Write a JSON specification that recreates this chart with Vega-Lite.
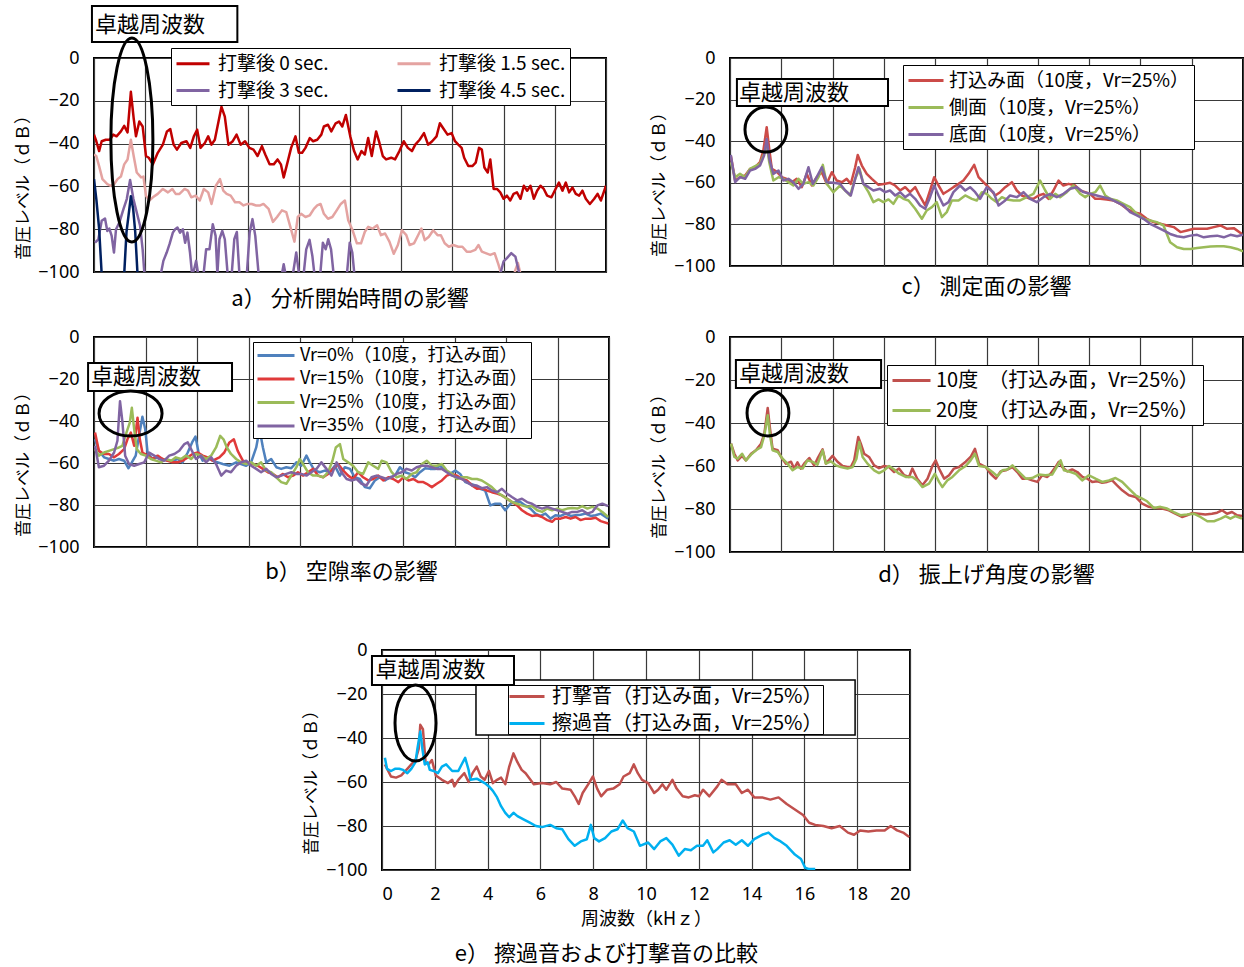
{
"$schema":"https://vega.github.io/schema/vega-lite/v6.json",
"autosize":{"type":"pad"},
"padding":{"left":13,"top":3,"right":0,"bottom":0},
"background":"#ffffff",
"config":{
"font":"Noto Sans CJK JP",
"view":{"stroke":"#000","strokeWidth":2},
"axis":{"labelFont":"Noto Sans","labelFontSize":18,"labelColor":"#000","titleFont":"Noto Sans CJK JP","titleFontSize":17,"titleFontWeight":"normal","titleColor":"#000","grid":true,"gridColor":"#3a3a3a","gridWidth":1.2,"gridOpacity":1,"domain":false,"ticks":false,"labelPadding":15,"titlePadding":5},
"legend":{"labelFont":"Noto Sans CJK JP","labelColor":"#000","labelLimit":600,"symbolStrokeWidth":3,"strokeColor":"#000","fillColor":"#fff"},
"title":{"font":"Noto Sans CJK JP","fontSize":22,"fontWeight":"normal","color":"#000"}
},
"datasets":{
"a":[
{"s":0,"f":0,"v":-35.8},{"s":0,"f":0.09,"v":-38.9},{"s":0,"f":0.2,"v":-43.5},{"s":0,"f":0.3,"v":-38.9},{"s":0,"f":0.46,"v":-38.2},{"s":0,"f":0.62,"v":-38.2},{"s":0,"f":0.75,"v":-35.8},{"s":0,"f":0.88,"v":-36.6},{"s":0,"f":1.05,"v":-34.3},{"s":0,"f":1.18,"v":-31.7},{"s":0,"f":1.31,"v":-34.8},{"s":0,"f":1.44,"v":-15.8},{"s":0,"f":1.55,"v":-28.2},{"s":0,"f":1.64,"v":-36.6},{"s":0,"f":1.77,"v":-29.7},{"s":0,"f":1.9,"v":-32},{"s":0,"f":2.03,"v":-45.8},{"s":0,"f":2.14,"v":-46.6},{"s":0,"f":2.3,"v":-49.7},{"s":0,"f":2.49,"v":-44.3},{"s":0,"f":2.69,"v":-40.5},{"s":0,"f":2.85,"v":-34.3},{"s":0,"f":2.98,"v":-33.2},{"s":0,"f":3.11,"v":-40.5},{"s":0,"f":3.24,"v":-42.8},{"s":0,"f":3.41,"v":-39.7},{"s":0,"f":3.61,"v":-38.9},{"s":0,"f":3.76,"v":-42},{"s":0,"f":3.9,"v":-36.6},{"s":0,"f":4.03,"v":-33.5},{"s":0,"f":4.16,"v":-42},{"s":0,"f":4.33,"v":-39.7},{"s":0,"f":4.46,"v":-36.6},{"s":0,"f":4.59,"v":-40.5},{"s":0,"f":4.72,"v":-38.2},{"s":0,"f":4.85,"v":-30.5},{"s":0,"f":4.98,"v":-22.8},{"s":0,"f":5.11,"v":-27.4},{"s":0,"f":5.25,"v":-40.5},{"s":0,"f":5.42,"v":-38.9},{"s":0,"f":5.57,"v":-35.8},{"s":0,"f":5.73,"v":-40.5},{"s":0,"f":5.9,"v":-38.9},{"s":0,"f":6.07,"v":-42},{"s":0,"f":6.23,"v":-42.8},{"s":0,"f":6.39,"v":-45.8},{"s":0,"f":6.56,"v":-41.2},{"s":0,"f":6.69,"v":-45.1},{"s":0,"f":6.86,"v":-49.7},{"s":0,"f":7.02,"v":-49.7},{"s":0,"f":7.17,"v":-47.4},{"s":0,"f":7.3,"v":-49.7},{"s":0,"f":7.41,"v":-55.8},{"s":0,"f":7.54,"v":-49.7},{"s":0,"f":7.7,"v":-42},{"s":0,"f":7.87,"v":-36.6},{"s":0,"f":8,"v":-44.3},{"s":0,"f":8.13,"v":-44.3},{"s":0,"f":8.26,"v":-42},{"s":0,"f":8.43,"v":-37.4},{"s":0,"f":8.56,"v":-38.9},{"s":0,"f":8.72,"v":-38.2},{"s":0,"f":8.88,"v":-35.8},{"s":0,"f":8.98,"v":-32},{"s":0,"f":9.14,"v":-31.2},{"s":0,"f":9.27,"v":-34.3},{"s":0,"f":9.44,"v":-30.5},{"s":0,"f":9.57,"v":-29.7},{"s":0,"f":9.7,"v":-32},{"s":0,"f":9.84,"v":-26.6},{"s":0,"f":10.01,"v":-36.6},{"s":0,"f":10.16,"v":-43.5},{"s":0,"f":10.3,"v":-47.4},{"s":0,"f":10.45,"v":-43.5},{"s":0,"f":10.58,"v":-45.1},{"s":0,"f":10.71,"v":-37.4},{"s":0,"f":10.85,"v":-45.8},{"s":0,"f":11.02,"v":-34.3},{"s":0,"f":11.15,"v":-39.7},{"s":0,"f":11.28,"v":-45.8},{"s":0,"f":11.41,"v":-47.4},{"s":0,"f":11.61,"v":-46.6},{"s":0,"f":11.76,"v":-47.4},{"s":0,"f":11.93,"v":-43.5},{"s":0,"f":12.1,"v":-38.9},{"s":0,"f":12.26,"v":-42},{"s":0,"f":12.42,"v":-43.5},{"s":0,"f":12.55,"v":-40.5},{"s":0,"f":12.72,"v":-38.2},{"s":0,"f":12.89,"v":-35.1},{"s":0,"f":13.05,"v":-40.5},{"s":0,"f":13.21,"v":-38.9},{"s":0,"f":13.38,"v":-36.6},{"s":0,"f":13.51,"v":-30.5},{"s":0,"f":13.64,"v":-32.8},{"s":0,"f":13.81,"v":-35.8},{"s":0,"f":13.97,"v":-35.1},{"s":0,"f":14.1,"v":-38.9},{"s":0,"f":14.23,"v":-40.5},{"s":0,"f":14.36,"v":-42},{"s":0,"f":14.46,"v":-46.6},{"s":0,"f":14.62,"v":-50.5},{"s":0,"f":14.78,"v":-50.5},{"s":0,"f":14.91,"v":-48.9},{"s":0,"f":15.04,"v":-42},{"s":0,"f":15.15,"v":-42.8},{"s":0,"f":15.25,"v":-51.2},{"s":0,"f":15.38,"v":-53.5},{"s":0,"f":15.48,"v":-47.4},{"s":0,"f":15.61,"v":-61.2},{"s":0,"f":15.74,"v":-61.2},{"s":0,"f":15.87,"v":-62.8},{"s":0,"f":16,"v":-65.8},{"s":0,"f":16.13,"v":-64.3},{"s":0,"f":16.26,"v":-66.6},{"s":0,"f":16.39,"v":-63.5},{"s":0,"f":16.52,"v":-62.8},{"s":0,"f":16.66,"v":-65.8},{"s":0,"f":16.79,"v":-59.7},{"s":0,"f":16.92,"v":-62},{"s":0,"f":17.05,"v":-59.7},{"s":0,"f":17.18,"v":-65.8},{"s":0,"f":17.31,"v":-62},{"s":0,"f":17.44,"v":-59.7},{"s":0,"f":17.57,"v":-61.2},{"s":0,"f":17.7,"v":-64.3},{"s":0,"f":17.87,"v":-65.1},{"s":0,"f":18.03,"v":-61.2},{"s":0,"f":18.16,"v":-58.2},{"s":0,"f":18.3,"v":-62},{"s":0,"f":18.43,"v":-58.2},{"s":0,"f":18.56,"v":-62.8},{"s":0,"f":18.69,"v":-60.5},{"s":0,"f":18.82,"v":-63.5},{"s":0,"f":18.95,"v":-64.3},{"s":0,"f":19.08,"v":-62},{"s":0,"f":19.21,"v":-65.8},{"s":0,"f":19.37,"v":-68.2},{"s":0,"f":19.54,"v":-65.8},{"s":0,"f":19.67,"v":-63.5},{"s":0,"f":19.8,"v":-66.6},{"s":0,"f":20,"v":-59.7},
{"s":1.5,"f":0,"v":-45.1},{"s":1.5,"f":0.09,"v":-45.8},{"s":1.5,"f":0.2,"v":-50.5},{"s":1.5,"f":0.33,"v":-56.6},{"s":1.5,"f":0.52,"v":-58.9},{"s":1.5,"f":0.66,"v":-59.7},{"s":1.5,"f":0.79,"v":-58.9},{"s":1.5,"f":0.92,"v":-56.6},{"s":1.5,"f":1.05,"v":-55.4},{"s":1.5,"f":1.18,"v":-49.7},{"s":1.5,"f":1.31,"v":-47.4},{"s":1.5,"f":1.44,"v":-38.2},{"s":1.5,"f":1.55,"v":-45.8},{"s":1.5,"f":1.67,"v":-53.5},{"s":1.5,"f":1.84,"v":-55.8},{"s":1.5,"f":1.93,"v":-55.4},{"s":1.5,"f":2.03,"v":-64.3},{"s":1.5,"f":2.16,"v":-66.6},{"s":1.5,"f":2.3,"v":-65.1},{"s":1.5,"f":2.49,"v":-63.5},{"s":1.5,"f":2.69,"v":-61.2},{"s":1.5,"f":2.89,"v":-62.8},{"s":1.5,"f":3.06,"v":-61.2},{"s":1.5,"f":3.19,"v":-63.5},{"s":1.5,"f":3.34,"v":-63.5},{"s":1.5,"f":3.54,"v":-61.2},{"s":1.5,"f":3.67,"v":-62},{"s":1.5,"f":3.8,"v":-65.1},{"s":1.5,"f":3.97,"v":-64.3},{"s":1.5,"f":4.13,"v":-66.6},{"s":1.5,"f":4.29,"v":-61.2},{"s":1.5,"f":4.46,"v":-62.8},{"s":1.5,"f":4.59,"v":-68.2},{"s":1.5,"f":4.76,"v":-59.7},{"s":1.5,"f":4.92,"v":-56.6},{"s":1.5,"f":5.05,"v":-62},{"s":1.5,"f":5.18,"v":-63.5},{"s":1.5,"f":5.34,"v":-64.3},{"s":1.5,"f":5.51,"v":-67.4},{"s":1.5,"f":5.68,"v":-67.4},{"s":1.5,"f":5.84,"v":-68.9},{"s":1.5,"f":6,"v":-68.2},{"s":1.5,"f":6.16,"v":-68.2},{"s":1.5,"f":6.33,"v":-68.9},{"s":1.5,"f":6.49,"v":-68.9},{"s":1.5,"f":6.62,"v":-68.2},{"s":1.5,"f":6.82,"v":-70.5},{"s":1.5,"f":6.99,"v":-76.6},{"s":1.5,"f":7.15,"v":-74.3},{"s":1.5,"f":7.34,"v":-71.2},{"s":1.5,"f":7.51,"v":-72},{"s":1.5,"f":7.67,"v":-78.9},{"s":1.5,"f":7.83,"v":-85.8},{"s":1.5,"f":7.96,"v":-74.3},{"s":1.5,"f":8.09,"v":-72.8},{"s":1.5,"f":8.26,"v":-74.3},{"s":1.5,"f":8.43,"v":-73.5},{"s":1.5,"f":8.59,"v":-70.5},{"s":1.5,"f":8.72,"v":-68.9},{"s":1.5,"f":8.85,"v":-68.2},{"s":1.5,"f":8.98,"v":-72.8},{"s":1.5,"f":9.14,"v":-75.1},{"s":1.5,"f":9.31,"v":-74.3},{"s":1.5,"f":9.48,"v":-71.2},{"s":1.5,"f":9.64,"v":-68.2},{"s":1.5,"f":9.8,"v":-66.6},{"s":1.5,"f":9.93,"v":-75.8},{"s":1.5,"f":10.1,"v":-80.5},{"s":1.5,"f":10.27,"v":-86.6},{"s":1.5,"f":10.43,"v":-86.6},{"s":1.5,"f":10.58,"v":-81.2},{"s":1.5,"f":10.71,"v":-78.9},{"s":1.5,"f":10.89,"v":-79.7},{"s":1.5,"f":11.06,"v":-78.2},{"s":1.5,"f":11.21,"v":-82.8},{"s":1.5,"f":11.37,"v":-82},{"s":1.5,"f":11.54,"v":-85.8},{"s":1.5,"f":11.71,"v":-91.5},{"s":1.5,"f":11.87,"v":-87.4},{"s":1.5,"f":12.03,"v":-80.5},{"s":1.5,"f":12.2,"v":-82.8},{"s":1.5,"f":12.33,"v":-87.4},{"s":1.5,"f":12.5,"v":-86.6},{"s":1.5,"f":12.66,"v":-82.8},{"s":1.5,"f":12.79,"v":-79.7},{"s":1.5,"f":12.92,"v":-85.1},{"s":1.5,"f":13.08,"v":-83.5},{"s":1.5,"f":13.25,"v":-80.5},{"s":1.5,"f":13.42,"v":-82.8},{"s":1.5,"f":13.55,"v":-82.8},{"s":1.5,"f":13.7,"v":-86.6},{"s":1.5,"f":13.86,"v":-88.2},{"s":1.5,"f":14.03,"v":-87.4},{"s":1.5,"f":14.23,"v":-88.2},{"s":1.5,"f":14.39,"v":-88.2},{"s":1.5,"f":14.56,"v":-90.5},{"s":1.5,"f":14.72,"v":-90.5},{"s":1.5,"f":14.89,"v":-89.7},{"s":1.5,"f":15.02,"v":-87.4},{"s":1.5,"f":15.15,"v":-90.5},{"s":1.5,"f":15.3,"v":-91.2},{"s":1.5,"f":15.48,"v":-92},{"s":1.5,"f":15.65,"v":-91.2},{"s":1.5,"f":15.8,"v":-96.6},{"s":1.5,"f":15.91,"v":-101},{"s":1.5,"f":16.2,"v":-112},{"s":1.5,"f":16.46,"v":-99},{"s":1.5,"f":16.56,"v":-95.8},{"s":1.5,"f":16.66,"v":-101},{"s":1.5,"f":16.8,"v":-112},
{"s":3,"f":0.04,"v":-86.3},{"s":3,"f":0.17,"v":-84.7},{"s":3,"f":0.3,"v":-76.1},{"s":3,"f":0.43,"v":-75},{"s":3,"f":0.52,"v":-80.8},{"s":3,"f":0.6,"v":-79.7},{"s":3,"f":0.69,"v":-83.1},{"s":3,"f":0.78,"v":-90.9},{"s":3,"f":0.86,"v":-80},{"s":3,"f":0.99,"v":-76.9},{"s":3,"f":1.15,"v":-70.6},{"s":3,"f":1.28,"v":-65.9},{"s":3,"f":1.41,"v":-57},{"s":3,"f":1.54,"v":-65.9},{"s":3,"f":1.67,"v":-72.2},{"s":3,"f":1.8,"v":-78.4},{"s":3,"f":1.9,"v":-89.4},{"s":3,"f":1.97,"v":-101},{"s":3,"f":2.3,"v":-112},{"s":3,"f":2.61,"v":-101},{"s":3,"f":2.71,"v":-94.8},{"s":3,"f":2.84,"v":-90.9},{"s":3,"f":2.95,"v":-87},{"s":3,"f":3.08,"v":-81.6},{"s":3,"f":3.17,"v":-80},{"s":3,"f":3.26,"v":-79.2},{"s":3,"f":3.36,"v":-81.6},{"s":3,"f":3.47,"v":-80},{"s":3,"f":3.56,"v":-86.3},{"s":3,"f":3.65,"v":-81.6},{"s":3,"f":3.75,"v":-90.9},{"s":3,"f":3.83,"v":-101},{"s":3,"f":3.91,"v":-98.8},{"s":3,"f":3.99,"v":-94.8},{"s":3,"f":4.07,"v":-101},{"s":3,"f":4.18,"v":-112},{"s":3,"f":4.28,"v":-101},{"s":3,"f":4.38,"v":-89.4},{"s":3,"f":4.51,"v":-89.4},{"s":3,"f":4.64,"v":-77.7},{"s":3,"f":4.75,"v":-83.1},{"s":3,"f":4.82,"v":-101},{"s":3,"f":4.9,"v":-84.7},{"s":3,"f":5.01,"v":-80.8},{"s":3,"f":5.11,"v":-84.7},{"s":3,"f":5.22,"v":-101},{"s":3,"f":5.3,"v":-112},{"s":3,"f":5.38,"v":-101},{"s":3,"f":5.48,"v":-84.7},{"s":3,"f":5.58,"v":-81.3},{"s":3,"f":5.68,"v":-101},{"s":3,"f":5.82,"v":-112},{"s":3,"f":5.97,"v":-101},{"s":3,"f":6.08,"v":-81.6},{"s":3,"f":6.19,"v":-75.3},{"s":3,"f":6.3,"v":-83.1},{"s":3,"f":6.43,"v":-101},{"s":3,"f":6.9,"v":-112},{"s":3,"f":7.34,"v":-101},{"s":3,"f":7.41,"v":-96.4},{"s":3,"f":7.48,"v":-101},{"s":3,"f":7.62,"v":-112},{"s":3,"f":7.77,"v":-101},{"s":3,"f":7.9,"v":-90.9},{"s":3,"f":8.01,"v":-101},{"s":3,"f":8.1,"v":-112},{"s":3,"f":8.19,"v":-101},{"s":3,"f":8.29,"v":-89.4},{"s":3,"f":8.42,"v":-85},{"s":3,"f":8.53,"v":-92.5},{"s":3,"f":8.61,"v":-101},{"s":3,"f":8.72,"v":-112},{"s":3,"f":8.84,"v":-101},{"s":3,"f":8.94,"v":-86.3},{"s":3,"f":9.05,"v":-89.4},{"s":3,"f":9.15,"v":-84.7},{"s":3,"f":9.26,"v":-89.4},{"s":3,"f":9.36,"v":-101},{"s":3,"f":9.6,"v":-112},{"s":3,"f":9.88,"v":-101},{"s":3,"f":9.99,"v":-86.3},{"s":3,"f":10.09,"v":-90.9},{"s":3,"f":10.17,"v":-101},{"s":3,"f":13,"v":-112},{"s":3,"f":15.87,"v":-101},{"s":3,"f":16,"v":-95},{"s":3,"f":16.13,"v":-93.5},{"s":3,"f":16.3,"v":-91.2},{"s":3,"f":16.46,"v":-92.8},{"s":3,"f":16.56,"v":-98},{"s":3,"f":16.62,"v":-101},{"s":3,"f":16.8,"v":-112},
{"s":4.5,"f":0,"v":-56.6},{"s":4.5,"f":0.09,"v":-65.8},{"s":4.5,"f":0.2,"v":-79.7},{"s":4.5,"f":0.3,"v":-101},{"s":4.5,"f":0.7,"v":-112},{"s":4.5,"f":1.18,"v":-101},{"s":4.5,"f":1.27,"v":-81.2},{"s":4.5,"f":1.35,"v":-73.5},{"s":4.5,"f":1.44,"v":-64.6},{"s":4.5,"f":1.53,"v":-70.5},{"s":4.5,"f":1.61,"v":-81.2},{"s":4.5,"f":1.7,"v":-101},{"s":4.5,"f":2,"v":-112}
],
"b":[
{"s":0,"f":0.04,"v":-48.7},{"s":0,"f":0.19,"v":-54.2},{"s":0,"f":0.39,"v":-57.3},{"s":0,"f":0.58,"v":-58.1},{"s":0,"f":0.78,"v":-58.9},{"s":0,"f":0.97,"v":-58.1},{"s":0,"f":1.17,"v":-58.9},{"s":0,"f":1.34,"v":-62.5},{"s":0,"f":1.47,"v":-59.7},{"s":0,"f":1.62,"v":-56.5},{"s":0,"f":1.75,"v":-47.1},{"s":0,"f":1.88,"v":-38},{"s":0,"f":1.99,"v":-43.9},{"s":0,"f":2.08,"v":-55},{"s":0,"f":2.27,"v":-58.1},{"s":0,"f":2.47,"v":-57.3},{"s":0,"f":2.66,"v":-58.1},{"s":0,"f":2.86,"v":-58.9},{"s":0,"f":3.05,"v":-58.9},{"s":0,"f":3.25,"v":-58.1},{"s":0,"f":3.44,"v":-59.7},{"s":0,"f":3.64,"v":-55},{"s":0,"f":3.81,"v":-50.2},{"s":0,"f":3.94,"v":-47.4},{"s":0,"f":4.06,"v":-55},{"s":0,"f":4.22,"v":-58.9},{"s":0,"f":4.42,"v":-57.3},{"s":0,"f":4.61,"v":-58.9},{"s":0,"f":4.81,"v":-59.7},{"s":0,"f":5,"v":-60.5},{"s":0,"f":5.26,"v":-61.3},{"s":0,"f":5.52,"v":-59.7},{"s":0,"f":5.71,"v":-60.5},{"s":0,"f":5.91,"v":-61.3},{"s":0,"f":6.1,"v":-59.7},{"s":0,"f":6.3,"v":-52.6},{"s":0,"f":6.43,"v":-43.9},{"s":0,"f":6.56,"v":-52.6},{"s":0,"f":6.69,"v":-59.7},{"s":0,"f":6.88,"v":-58.1},{"s":0,"f":7.08,"v":-62},{"s":0,"f":7.27,"v":-62.8},{"s":0,"f":7.47,"v":-62},{"s":0,"f":7.66,"v":-62.5},{"s":0,"f":7.86,"v":-59.7},{"s":0,"f":8.05,"v":-61.3},{"s":0,"f":8.25,"v":-56.5},{"s":0,"f":8.38,"v":-59.7},{"s":0,"f":8.57,"v":-63.6},{"s":0,"f":8.77,"v":-64.4},{"s":0,"f":8.96,"v":-63.6},{"s":0,"f":9.16,"v":-64.4},{"s":0,"f":9.35,"v":-61.3},{"s":0,"f":9.55,"v":-66},{"s":0,"f":9.74,"v":-62},{"s":0,"f":9.94,"v":-62.8},{"s":0,"f":10.13,"v":-66.8},{"s":0,"f":10.32,"v":-67.6},{"s":0,"f":10.52,"v":-71.5},{"s":0,"f":10.71,"v":-72},{"s":0,"f":10.91,"v":-68.3},{"s":0,"f":11.1,"v":-66.8},{"s":0,"f":11.3,"v":-68.3},{"s":0,"f":11.49,"v":-66.8},{"s":0,"f":11.69,"v":-66},{"s":0,"f":11.88,"v":-62},{"s":0,"f":12.08,"v":-64.4},{"s":0,"f":12.27,"v":-65.2},{"s":0,"f":12.47,"v":-66.8},{"s":0,"f":12.66,"v":-64.4},{"s":0,"f":12.86,"v":-62.5},{"s":0,"f":13.05,"v":-62.8},{"s":0,"f":13.25,"v":-62.8},{"s":0,"f":13.44,"v":-61.3},{"s":0,"f":13.64,"v":-63.6},{"s":0,"f":13.83,"v":-65.2},{"s":0,"f":14.03,"v":-63.6},{"s":0,"f":14.22,"v":-65.2},{"s":0,"f":14.42,"v":-69.1},{"s":0,"f":14.61,"v":-69.9},{"s":0,"f":14.81,"v":-70.7},{"s":0,"f":15,"v":-72.3},{"s":0,"f":15.19,"v":-73.1},{"s":0,"f":15.39,"v":-80.2},{"s":0,"f":15.58,"v":-79.4},{"s":0,"f":15.78,"v":-79.4},{"s":0,"f":15.97,"v":-82.5},{"s":0,"f":16.17,"v":-79.4},{"s":0,"f":16.36,"v":-78.6},{"s":0,"f":16.56,"v":-78.6},{"s":0,"f":16.75,"v":-80.2},{"s":0,"f":16.95,"v":-81.7},{"s":0,"f":17.14,"v":-84.1},{"s":0,"f":17.34,"v":-85.2},{"s":0,"f":17.53,"v":-84.1},{"s":0,"f":17.73,"v":-86.5},{"s":0,"f":17.92,"v":-84.9},{"s":0,"f":18.12,"v":-85.2},{"s":0,"f":18.32,"v":-84.1},{"s":0,"f":18.51,"v":-85.2},{"s":0,"f":18.7,"v":-84.9},{"s":0,"f":18.9,"v":-84.6},{"s":0,"f":19.09,"v":-84.1},{"s":0,"f":19.29,"v":-85.2},{"s":0,"f":19.48,"v":-84.9},{"s":0,"f":19.68,"v":-84.1},{"s":0,"f":19.97,"v":-86.5},
{"s":15,"f":0.04,"v":-45.5},{"s":15,"f":0.19,"v":-54.2},{"s":15,"f":0.39,"v":-55.7},{"s":15,"f":0.58,"v":-55.7},{"s":15,"f":0.78,"v":-57.3},{"s":15,"f":0.97,"v":-55.7},{"s":15,"f":1.17,"v":-53.4},{"s":15,"f":1.3,"v":-48.7},{"s":15,"f":1.43,"v":-45.5},{"s":15,"f":1.56,"v":-51.8},{"s":15,"f":1.69,"v":-38.4},{"s":15,"f":1.78,"v":-48.7},{"s":15,"f":1.88,"v":-55},{"s":15,"f":2.08,"v":-56.5},{"s":15,"f":2.27,"v":-58.1},{"s":15,"f":2.47,"v":-56.5},{"s":15,"f":2.66,"v":-58.1},{"s":15,"f":2.86,"v":-58.9},{"s":15,"f":3.05,"v":-59.7},{"s":15,"f":3.25,"v":-59.7},{"s":15,"f":3.44,"v":-58.9},{"s":15,"f":3.64,"v":-57.3},{"s":15,"f":3.83,"v":-55.7},{"s":15,"f":4.03,"v":-55},{"s":15,"f":4.22,"v":-56.5},{"s":15,"f":4.42,"v":-57.3},{"s":15,"f":4.61,"v":-58.9},{"s":15,"f":4.87,"v":-57.3},{"s":15,"f":5.06,"v":-55},{"s":15,"f":5.26,"v":-50.2},{"s":15,"f":5.43,"v":-48.7},{"s":15,"f":5.58,"v":-54.2},{"s":15,"f":5.78,"v":-58.9},{"s":15,"f":5.97,"v":-59.7},{"s":15,"f":6.17,"v":-60.5},{"s":15,"f":6.36,"v":-61.3},{"s":15,"f":6.56,"v":-62.8},{"s":15,"f":6.75,"v":-64.4},{"s":15,"f":6.95,"v":-65.2},{"s":15,"f":7.14,"v":-66.8},{"s":15,"f":7.34,"v":-65.2},{"s":15,"f":7.53,"v":-66.8},{"s":15,"f":7.73,"v":-66},{"s":15,"f":7.92,"v":-64.4},{"s":15,"f":8.12,"v":-66},{"s":15,"f":8.31,"v":-64.4},{"s":15,"f":8.51,"v":-62.8},{"s":15,"f":8.7,"v":-66},{"s":15,"f":8.9,"v":-66.8},{"s":15,"f":9.09,"v":-65.2},{"s":15,"f":9.29,"v":-62.8},{"s":15,"f":9.48,"v":-60.5},{"s":15,"f":9.68,"v":-63.6},{"s":15,"f":9.87,"v":-66},{"s":15,"f":10.06,"v":-67.6},{"s":15,"f":10.26,"v":-64.4},{"s":15,"f":10.45,"v":-66.8},{"s":15,"f":10.65,"v":-68.3},{"s":15,"f":10.84,"v":-67.6},{"s":15,"f":11.04,"v":-66},{"s":15,"f":11.23,"v":-68.3},{"s":15,"f":11.43,"v":-66.8},{"s":15,"f":11.62,"v":-67.6},{"s":15,"f":11.82,"v":-69.1},{"s":15,"f":12.01,"v":-66.8},{"s":15,"f":12.21,"v":-68.3},{"s":15,"f":12.4,"v":-67.6},{"s":15,"f":12.6,"v":-69.1},{"s":15,"f":12.79,"v":-69.1},{"s":15,"f":12.92,"v":-69.9},{"s":15,"f":13.12,"v":-71.5},{"s":15,"f":13.31,"v":-69.9},{"s":15,"f":13.51,"v":-68.3},{"s":15,"f":13.7,"v":-66},{"s":15,"f":13.9,"v":-65.2},{"s":15,"f":14.09,"v":-66},{"s":15,"f":14.29,"v":-67.6},{"s":15,"f":14.48,"v":-68.3},{"s":15,"f":14.68,"v":-70.7},{"s":15,"f":14.87,"v":-72.3},{"s":15,"f":15.06,"v":-72},{"s":15,"f":15.26,"v":-73.1},{"s":15,"f":15.45,"v":-73.9},{"s":15,"f":15.65,"v":-74.6},{"s":15,"f":15.84,"v":-75.4},{"s":15,"f":16.04,"v":-77},{"s":15,"f":16.23,"v":-78.6},{"s":15,"f":16.43,"v":-80.2},{"s":15,"f":16.62,"v":-82.5},{"s":15,"f":16.82,"v":-84.1},{"s":15,"f":17.01,"v":-85.2},{"s":15,"f":17.21,"v":-84.9},{"s":15,"f":17.4,"v":-85.7},{"s":15,"f":17.6,"v":-87.2},{"s":15,"f":17.79,"v":-88},{"s":15,"f":17.92,"v":-86.5},{"s":15,"f":18.12,"v":-86.5},{"s":15,"f":18.32,"v":-85.7},{"s":15,"f":18.51,"v":-86.5},{"s":15,"f":18.7,"v":-85.7},{"s":15,"f":18.9,"v":-87.2},{"s":15,"f":19.09,"v":-86.5},{"s":15,"f":19.29,"v":-86.5},{"s":15,"f":19.48,"v":-86.1},{"s":15,"f":19.68,"v":-87.7},{"s":15,"f":19.97,"v":-88.8},
{"s":25,"f":0.04,"v":-53.4},{"s":25,"f":0.19,"v":-56.5},{"s":25,"f":0.39,"v":-55},{"s":25,"f":0.58,"v":-54.2},{"s":25,"f":0.78,"v":-53.4},{"s":25,"f":0.97,"v":-52.6},{"s":25,"f":1.1,"v":-51.8},{"s":25,"f":1.26,"v":-45.5},{"s":25,"f":1.39,"v":-40.8},{"s":25,"f":1.47,"v":-33.7},{"s":25,"f":1.56,"v":-43.9},{"s":25,"f":1.66,"v":-53.4},{"s":25,"f":1.82,"v":-55.7},{"s":25,"f":2.01,"v":-56.5},{"s":25,"f":2.21,"v":-58.1},{"s":25,"f":2.4,"v":-58.9},{"s":25,"f":2.6,"v":-59.7},{"s":25,"f":2.79,"v":-58.1},{"s":25,"f":3,"v":-58.9},{"s":25,"f":3.18,"v":-57.3},{"s":25,"f":3.38,"v":-58.1},{"s":25,"f":3.57,"v":-56.5},{"s":25,"f":3.77,"v":-58.1},{"s":25,"f":3.96,"v":-55.7},{"s":25,"f":4.16,"v":-56.5},{"s":25,"f":4.35,"v":-58.1},{"s":25,"f":4.55,"v":-56.5},{"s":25,"f":4.74,"v":-52.6},{"s":25,"f":4.9,"v":-47.1},{"s":25,"f":5.03,"v":-48.7},{"s":25,"f":5.16,"v":-52.6},{"s":25,"f":5.32,"v":-55.7},{"s":25,"f":5.52,"v":-58.1},{"s":25,"f":5.71,"v":-59.7},{"s":25,"f":5.91,"v":-60.5},{"s":25,"f":6.1,"v":-59.7},{"s":25,"f":6.3,"v":-61.3},{"s":25,"f":6.49,"v":-59.7},{"s":25,"f":6.69,"v":-63.6},{"s":25,"f":6.88,"v":-64.4},{"s":25,"f":7.08,"v":-66.8},{"s":25,"f":7.27,"v":-69.1},{"s":25,"f":7.47,"v":-69.9},{"s":25,"f":7.66,"v":-66},{"s":25,"f":7.86,"v":-62},{"s":25,"f":7.99,"v":-58.1},{"s":25,"f":8.12,"v":-60.5},{"s":25,"f":8.31,"v":-64.4},{"s":25,"f":8.51,"v":-66},{"s":25,"f":8.7,"v":-66},{"s":25,"f":8.9,"v":-66.8},{"s":25,"f":9.09,"v":-64.4},{"s":25,"f":9.26,"v":-58.9},{"s":25,"f":9.39,"v":-52.6},{"s":25,"f":9.55,"v":-51},{"s":25,"f":9.68,"v":-58.1},{"s":25,"f":9.87,"v":-59.7},{"s":25,"f":10.06,"v":-61.3},{"s":25,"f":10.26,"v":-64.4},{"s":25,"f":10.45,"v":-65.2},{"s":25,"f":10.65,"v":-59.7},{"s":25,"f":10.84,"v":-61.3},{"s":25,"f":11.04,"v":-62.8},{"s":25,"f":11.17,"v":-58.9},{"s":25,"f":11.36,"v":-59.7},{"s":25,"f":11.56,"v":-64.4},{"s":25,"f":11.75,"v":-66.8},{"s":25,"f":11.95,"v":-66},{"s":25,"f":12.14,"v":-67.6},{"s":25,"f":12.34,"v":-65.2},{"s":25,"f":12.53,"v":-64.4},{"s":25,"f":12.73,"v":-60.5},{"s":25,"f":12.92,"v":-58.9},{"s":25,"f":13.12,"v":-61.3},{"s":25,"f":13.31,"v":-61.3},{"s":25,"f":13.51,"v":-60.5},{"s":25,"f":13.7,"v":-63.6},{"s":25,"f":13.9,"v":-65.2},{"s":25,"f":14.09,"v":-67.6},{"s":25,"f":14.29,"v":-66.8},{"s":25,"f":14.48,"v":-66.8},{"s":25,"f":14.68,"v":-67.6},{"s":25,"f":14.87,"v":-67.6},{"s":25,"f":15.06,"v":-68.3},{"s":25,"f":15.26,"v":-69.9},{"s":25,"f":15.45,"v":-71.5},{"s":25,"f":15.65,"v":-73.9},{"s":25,"f":15.84,"v":-75.4},{"s":25,"f":16.04,"v":-77},{"s":25,"f":16.23,"v":-78.6},{"s":25,"f":16.43,"v":-79.4},{"s":25,"f":16.62,"v":-80.2},{"s":25,"f":16.82,"v":-80.9},{"s":25,"f":17.01,"v":-80.5},{"s":25,"f":17.21,"v":-82.5},{"s":25,"f":17.4,"v":-83.3},{"s":25,"f":17.6,"v":-81.7},{"s":25,"f":17.79,"v":-82.5},{"s":25,"f":17.99,"v":-81.7},{"s":25,"f":18.18,"v":-82.5},{"s":25,"f":18.38,"v":-81.7},{"s":25,"f":18.57,"v":-81.4},{"s":25,"f":18.77,"v":-81.7},{"s":25,"f":18.96,"v":-80.5},{"s":25,"f":19.16,"v":-81.7},{"s":25,"f":19.35,"v":-80.9},{"s":25,"f":19.55,"v":-81.7},{"s":25,"f":19.74,"v":-83.3},{"s":25,"f":19.97,"v":-85.7},
{"s":35,"f":0.04,"v":-51.8},{"s":35,"f":0.19,"v":-62},{"s":35,"f":0.39,"v":-61.3},{"s":35,"f":0.58,"v":-58.9},{"s":35,"f":0.78,"v":-55},{"s":35,"f":0.91,"v":-49.4},{"s":35,"f":1.01,"v":-30.6},{"s":35,"f":1.1,"v":-40},{"s":35,"f":1.21,"v":-56.5},{"s":35,"f":1.36,"v":-60.5},{"s":35,"f":1.56,"v":-61.3},{"s":35,"f":1.75,"v":-60.5},{"s":35,"f":1.95,"v":-59.7},{"s":35,"f":2.14,"v":-55},{"s":35,"f":2.34,"v":-56.5},{"s":35,"f":2.53,"v":-58.1},{"s":35,"f":2.73,"v":-58.9},{"s":35,"f":2.92,"v":-56.5},{"s":35,"f":3.12,"v":-55.7},{"s":35,"f":3.31,"v":-54.2},{"s":35,"f":3.51,"v":-51},{"s":35,"f":3.64,"v":-50.2},{"s":35,"f":3.77,"v":-53.4},{"s":35,"f":3.96,"v":-58.1},{"s":35,"f":4.16,"v":-56.5},{"s":35,"f":4.35,"v":-59.7},{"s":35,"f":4.55,"v":-57.3},{"s":35,"f":4.74,"v":-60.5},{"s":35,"f":4.94,"v":-66},{"s":35,"f":5.13,"v":-63.6},{"s":35,"f":5.32,"v":-64.4},{"s":35,"f":5.52,"v":-61.3},{"s":35,"f":5.71,"v":-59.7},{"s":35,"f":5.91,"v":-58.9},{"s":35,"f":6.1,"v":-61.3},{"s":35,"f":6.3,"v":-62.8},{"s":35,"f":6.49,"v":-64.4},{"s":35,"f":6.69,"v":-62.8},{"s":35,"f":6.88,"v":-65.2},{"s":35,"f":7.08,"v":-66.8},{"s":35,"f":7.27,"v":-66},{"s":35,"f":7.47,"v":-65.2},{"s":35,"f":7.66,"v":-64.4},{"s":35,"f":7.86,"v":-65.2},{"s":35,"f":8.05,"v":-65.2},{"s":35,"f":8.25,"v":-66},{"s":35,"f":8.44,"v":-64.4},{"s":35,"f":8.64,"v":-62.8},{"s":35,"f":8.83,"v":-59.7},{"s":35,"f":9.03,"v":-62.8},{"s":35,"f":9.22,"v":-66},{"s":35,"f":9.42,"v":-59.7},{"s":35,"f":9.61,"v":-64.4},{"s":35,"f":9.81,"v":-67.6},{"s":35,"f":10,"v":-68.3},{"s":35,"f":10.19,"v":-67.6},{"s":35,"f":10.39,"v":-69.9},{"s":35,"f":10.58,"v":-70.7},{"s":35,"f":10.78,"v":-66.8},{"s":35,"f":10.97,"v":-66},{"s":35,"f":11.17,"v":-66.8},{"s":35,"f":11.36,"v":-67.6},{"s":35,"f":11.56,"v":-66.8},{"s":35,"f":11.75,"v":-65.2},{"s":35,"f":11.95,"v":-64.4},{"s":35,"f":12.14,"v":-62.8},{"s":35,"f":12.34,"v":-63.6},{"s":35,"f":12.53,"v":-62},{"s":35,"f":12.73,"v":-61.3},{"s":35,"f":12.92,"v":-61.3},{"s":35,"f":13.12,"v":-62},{"s":35,"f":13.31,"v":-62.8},{"s":35,"f":13.51,"v":-62.8},{"s":35,"f":13.7,"v":-64.4},{"s":35,"f":13.9,"v":-66},{"s":35,"f":14.09,"v":-66.8},{"s":35,"f":14.29,"v":-67.6},{"s":35,"f":14.48,"v":-69.1},{"s":35,"f":14.68,"v":-70.7},{"s":35,"f":14.87,"v":-70.7},{"s":35,"f":15.06,"v":-72},{"s":35,"f":15.26,"v":-71.5},{"s":35,"f":15.45,"v":-73.1},{"s":35,"f":15.65,"v":-73.9},{"s":35,"f":15.84,"v":-72.3},{"s":35,"f":16.04,"v":-74.6},{"s":35,"f":16.23,"v":-76.2},{"s":35,"f":16.43,"v":-77.8},{"s":35,"f":16.62,"v":-77},{"s":35,"f":16.82,"v":-78.6},{"s":35,"f":17.01,"v":-79.4},{"s":35,"f":17.21,"v":-80.9},{"s":35,"f":17.4,"v":-81.7},{"s":35,"f":17.6,"v":-80.9},{"s":35,"f":17.79,"v":-81.7},{"s":35,"f":17.99,"v":-82.5},{"s":35,"f":18.18,"v":-83.3},{"s":35,"f":18.38,"v":-84.1},{"s":35,"f":18.57,"v":-83.3},{"s":35,"f":18.77,"v":-83.3},{"s":35,"f":18.96,"v":-82.5},{"s":35,"f":19.16,"v":-84.1},{"s":35,"f":19.35,"v":-83.3},{"s":35,"f":19.55,"v":-80.2},{"s":35,"f":19.74,"v":-79.4},{"s":35,"f":19.97,"v":-80.5}
],
"c":[
{"s":1,"f":0.03,"v":-46.9},{"s":1,"f":0.2,"v":-58.9},{"s":1,"f":0.39,"v":-57.3},{"s":1,"f":0.59,"v":-56.5},{"s":1,"f":0.78,"v":-53.3},{"s":1,"f":0.98,"v":-52.5},{"s":1,"f":1.17,"v":-50.1},{"s":1,"f":1.3,"v":-44.5},{"s":1,"f":1.43,"v":-33.3},{"s":1,"f":1.53,"v":-43.7},{"s":1,"f":1.63,"v":-53.3},{"s":1,"f":1.82,"v":-54.6},{"s":1,"f":2.02,"v":-57.3},{"s":1,"f":2.21,"v":-58.1},{"s":1,"f":2.41,"v":-59.7},{"s":1,"f":2.6,"v":-58.1},{"s":1,"f":2.8,"v":-62.1},{"s":1,"f":2.99,"v":-55.7},{"s":1,"f":3.19,"v":-61.3},{"s":1,"f":3.38,"v":-57.3},{"s":1,"f":3.58,"v":-54.9},{"s":1,"f":3.77,"v":-60.5},{"s":1,"f":3.97,"v":-54.9},{"s":1,"f":4.16,"v":-58.9},{"s":1,"f":4.36,"v":-59.7},{"s":1,"f":4.55,"v":-58.1},{"s":1,"f":4.71,"v":-60.5},{"s":1,"f":4.88,"v":-52.5},{"s":1,"f":4.98,"v":-46.6},{"s":1,"f":5.14,"v":-51.7},{"s":1,"f":5.33,"v":-55.7},{"s":1,"f":5.53,"v":-58.1},{"s":1,"f":5.79,"v":-61},{"s":1,"f":6.05,"v":-60.5},{"s":1,"f":6.24,"v":-60},{"s":1,"f":6.44,"v":-61.3},{"s":1,"f":6.63,"v":-63.7},{"s":1,"f":6.83,"v":-62.1},{"s":1,"f":7.02,"v":-64.5},{"s":1,"f":7.22,"v":-62.1},{"s":1,"f":7.39,"v":-66.1},{"s":1,"f":7.61,"v":-70.9},{"s":1,"f":7.8,"v":-63.7},{"s":1,"f":7.96,"v":-57.3},{"s":1,"f":8.13,"v":-61.3},{"s":1,"f":8.32,"v":-65.3},{"s":1,"f":8.52,"v":-63.7},{"s":1,"f":8.71,"v":-62.1},{"s":1,"f":8.91,"v":-60.5},{"s":1,"f":9.1,"v":-58.9},{"s":1,"f":9.3,"v":-55.7},{"s":1,"f":9.52,"v":-51.4},{"s":1,"f":9.69,"v":-57.3},{"s":1,"f":9.88,"v":-59.7},{"s":1,"f":10.14,"v":-62.9},{"s":1,"f":10.34,"v":-66.1},{"s":1,"f":10.53,"v":-64.5},{"s":1,"f":10.73,"v":-62.1},{"s":1,"f":10.99,"v":-59.7},{"s":1,"f":11.18,"v":-63.7},{"s":1,"f":11.38,"v":-66.1},{"s":1,"f":11.64,"v":-67.4},{"s":1,"f":11.83,"v":-67.7},{"s":1,"f":12.03,"v":-66.1},{"s":1,"f":12.22,"v":-65.3},{"s":1,"f":12.42,"v":-67.7},{"s":1,"f":12.61,"v":-63.7},{"s":1,"f":12.81,"v":-58.9},{"s":1,"f":13,"v":-61.3},{"s":1,"f":13.2,"v":-60.5},{"s":1,"f":13.46,"v":-61.3},{"s":1,"f":13.65,"v":-63.7},{"s":1,"f":13.85,"v":-64.5},{"s":1,"f":14.04,"v":-65.3},{"s":1,"f":14.24,"v":-67.7},{"s":1,"f":14.43,"v":-67.7},{"s":1,"f":14.69,"v":-68},{"s":1,"f":14.95,"v":-68.5},{"s":1,"f":15.21,"v":-70.1},{"s":1,"f":15.47,"v":-72.5},{"s":1,"f":15.73,"v":-74.1},{"s":1,"f":15.99,"v":-74.9},{"s":1,"f":16.25,"v":-77.3},{"s":1,"f":16.51,"v":-78.9},{"s":1,"f":16.77,"v":-79.7},{"s":1,"f":17.04,"v":-80.5},{"s":1,"f":17.3,"v":-81.3},{"s":1,"f":17.56,"v":-83.7},{"s":1,"f":17.82,"v":-82.9},{"s":1,"f":18.08,"v":-82.1},{"s":1,"f":18.34,"v":-82.1},{"s":1,"f":18.6,"v":-82.1},{"s":1,"f":18.86,"v":-81.3},{"s":1,"f":19.12,"v":-80.5},{"s":1,"f":19.38,"v":-82.1},{"s":1,"f":19.64,"v":-81.8},{"s":1,"f":19.96,"v":-84.6},
{"s":2,"f":0.03,"v":-50.1},{"s":2,"f":0.2,"v":-57.3},{"s":2,"f":0.39,"v":-55.7},{"s":2,"f":0.59,"v":-57.3},{"s":2,"f":0.78,"v":-53.3},{"s":2,"f":0.98,"v":-52},{"s":2,"f":1.17,"v":-50.9},{"s":2,"f":1.33,"v":-46.1},{"s":2,"f":1.43,"v":-41.3},{"s":2,"f":1.53,"v":-50.1},{"s":2,"f":1.69,"v":-58.9},{"s":2,"f":1.89,"v":-57.3},{"s":2,"f":2.08,"v":-58.1},{"s":2,"f":2.28,"v":-59.7},{"s":2,"f":2.47,"v":-61.3},{"s":2,"f":2.67,"v":-58.1},{"s":2,"f":2.86,"v":-60.5},{"s":2,"f":3.06,"v":-59.7},{"s":2,"f":3.25,"v":-61.3},{"s":2,"f":3.45,"v":-57.3},{"s":2,"f":3.62,"v":-51.4},{"s":2,"f":3.77,"v":-60.5},{"s":2,"f":4.03,"v":-64.5},{"s":2,"f":4.29,"v":-61.3},{"s":2,"f":4.49,"v":-63.7},{"s":2,"f":4.68,"v":-66.1},{"s":2,"f":4.88,"v":-58.1},{"s":2,"f":5.05,"v":-53.3},{"s":2,"f":5.2,"v":-60.5},{"s":2,"f":5.4,"v":-64.5},{"s":2,"f":5.59,"v":-69.3},{"s":2,"f":5.79,"v":-68},{"s":2,"f":5.98,"v":-69.3},{"s":2,"f":6.18,"v":-68},{"s":2,"f":6.37,"v":-70.1},{"s":2,"f":6.57,"v":-66.1},{"s":2,"f":6.76,"v":-67.7},{"s":2,"f":6.96,"v":-68.5},{"s":2,"f":7.22,"v":-72.5},{"s":2,"f":7.48,"v":-77.3},{"s":2,"f":7.67,"v":-73.3},{"s":2,"f":7.87,"v":-71.7},{"s":2,"f":8.06,"v":-69.3},{"s":2,"f":8.26,"v":-76.5},{"s":2,"f":8.45,"v":-74.1},{"s":2,"f":8.65,"v":-68.5},{"s":2,"f":8.91,"v":-68.5},{"s":2,"f":9.17,"v":-66.1},{"s":2,"f":9.43,"v":-67.7},{"s":2,"f":9.62,"v":-68.5},{"s":2,"f":9.82,"v":-64.5},{"s":2,"f":10.01,"v":-65.3},{"s":2,"f":10.21,"v":-67.7},{"s":2,"f":10.4,"v":-69.3},{"s":2,"f":10.6,"v":-66.9},{"s":2,"f":10.79,"v":-68},{"s":2,"f":11.05,"v":-68.5},{"s":2,"f":11.31,"v":-68.5},{"s":2,"f":11.57,"v":-66.9},{"s":2,"f":11.83,"v":-65.3},{"s":2,"f":12.09,"v":-58.9},{"s":2,"f":12.29,"v":-63.7},{"s":2,"f":12.48,"v":-67.7},{"s":2,"f":12.68,"v":-65.3},{"s":2,"f":12.87,"v":-66.9},{"s":2,"f":13.13,"v":-64.5},{"s":2,"f":13.39,"v":-61.3},{"s":2,"f":13.65,"v":-65.3},{"s":2,"f":13.85,"v":-66.9},{"s":2,"f":14.04,"v":-65.3},{"s":2,"f":14.24,"v":-64.5},{"s":2,"f":14.43,"v":-61.3},{"s":2,"f":14.63,"v":-66.1},{"s":2,"f":14.82,"v":-67.7},{"s":2,"f":15.08,"v":-68.5},{"s":2,"f":15.34,"v":-70.1},{"s":2,"f":15.6,"v":-71.7},{"s":2,"f":15.86,"v":-74.9},{"s":2,"f":16.12,"v":-77.3},{"s":2,"f":16.38,"v":-78.1},{"s":2,"f":16.64,"v":-78.9},{"s":2,"f":16.9,"v":-80.5},{"s":2,"f":17.16,"v":-88.6},{"s":2,"f":17.43,"v":-91},{"s":2,"f":17.69,"v":-91.8},{"s":2,"f":17.95,"v":-91.8},{"s":2,"f":18.21,"v":-91.4},{"s":2,"f":18.47,"v":-91},{"s":2,"f":18.73,"v":-90.6},{"s":2,"f":18.99,"v":-90.5},{"s":2,"f":19.25,"v":-90.5},{"s":2,"f":19.51,"v":-91},{"s":2,"f":19.77,"v":-91.8},{"s":2,"f":20,"v":-93},
{"s":3,"f":0.03,"v":-46.6},{"s":3,"f":0.2,"v":-59.7},{"s":3,"f":0.39,"v":-57.3},{"s":3,"f":0.59,"v":-58.1},{"s":3,"f":0.78,"v":-54.1},{"s":3,"f":0.98,"v":-53.3},{"s":3,"f":1.17,"v":-51.7},{"s":3,"f":1.33,"v":-46.9},{"s":3,"f":1.43,"v":-38.9},{"s":3,"f":1.53,"v":-48.5},{"s":3,"f":1.69,"v":-55.7},{"s":3,"f":1.89,"v":-54.1},{"s":3,"f":2.08,"v":-58.9},{"s":3,"f":2.28,"v":-58.1},{"s":3,"f":2.47,"v":-59.7},{"s":3,"f":2.67,"v":-62.9},{"s":3,"f":2.86,"v":-60.5},{"s":3,"f":3.06,"v":-52.5},{"s":3,"f":3.23,"v":-60.5},{"s":3,"f":3.38,"v":-57.3},{"s":3,"f":3.58,"v":-52.5},{"s":3,"f":3.77,"v":-59.7},{"s":3,"f":4.03,"v":-60},{"s":3,"f":4.29,"v":-60.5},{"s":3,"f":4.49,"v":-63.7},{"s":3,"f":4.71,"v":-66.1},{"s":3,"f":4.88,"v":-58.1},{"s":3,"f":5.01,"v":-52.5},{"s":3,"f":5.2,"v":-60.5},{"s":3,"f":5.4,"v":-62.1},{"s":3,"f":5.59,"v":-63.7},{"s":3,"f":5.85,"v":-62.9},{"s":3,"f":6.05,"v":-64.5},{"s":3,"f":6.24,"v":-63.7},{"s":3,"f":6.44,"v":-66.1},{"s":3,"f":6.63,"v":-64.5},{"s":3,"f":6.83,"v":-66.9},{"s":3,"f":7.02,"v":-65.3},{"s":3,"f":7.22,"v":-67.7},{"s":3,"f":7.41,"v":-70.9},{"s":3,"f":7.61,"v":-72.5},{"s":3,"f":7.8,"v":-66.9},{"s":3,"f":7.96,"v":-61.3},{"s":3,"f":8.13,"v":-66.1},{"s":3,"f":8.32,"v":-70.9},{"s":3,"f":8.52,"v":-69.3},{"s":3,"f":8.71,"v":-64.5},{"s":3,"f":8.97,"v":-61.3},{"s":3,"f":9.17,"v":-63.7},{"s":3,"f":9.36,"v":-62.1},{"s":3,"f":9.56,"v":-64.5},{"s":3,"f":9.75,"v":-67.7},{"s":3,"f":10.01,"v":-62.1},{"s":3,"f":10.27,"v":-64.5},{"s":3,"f":10.47,"v":-70.9},{"s":3,"f":10.73,"v":-68.5},{"s":3,"f":10.92,"v":-66.1},{"s":3,"f":11.18,"v":-66.9},{"s":3,"f":11.44,"v":-64.5},{"s":3,"f":11.7,"v":-67.7},{"s":3,"f":11.96,"v":-69.3},{"s":3,"f":12.22,"v":-66.9},{"s":3,"f":12.48,"v":-65.3},{"s":3,"f":12.74,"v":-66.9},{"s":3,"f":13,"v":-65.3},{"s":3,"f":13.26,"v":-62.9},{"s":3,"f":13.52,"v":-62.1},{"s":3,"f":13.78,"v":-64.5},{"s":3,"f":14.04,"v":-65.3},{"s":3,"f":14.3,"v":-66.1},{"s":3,"f":14.56,"v":-66.9},{"s":3,"f":14.82,"v":-67.7},{"s":3,"f":15.08,"v":-69.3},{"s":3,"f":15.34,"v":-70.9},{"s":3,"f":15.6,"v":-74.1},{"s":3,"f":15.86,"v":-75.7},{"s":3,"f":16.12,"v":-77.3},{"s":3,"f":16.38,"v":-79.7},{"s":3,"f":16.64,"v":-81.3},{"s":3,"f":16.9,"v":-82.9},{"s":3,"f":17.16,"v":-84.6},{"s":3,"f":17.43,"v":-85.7},{"s":3,"f":17.69,"v":-86.2},{"s":3,"f":17.95,"v":-85.4},{"s":3,"f":18.21,"v":-85},{"s":3,"f":18.47,"v":-86.2},{"s":3,"f":18.73,"v":-85.7},{"s":3,"f":18.99,"v":-85.4},{"s":3,"f":19.25,"v":-86.2},{"s":3,"f":19.51,"v":-85},{"s":3,"f":19.77,"v":-85.7},{"s":3,"f":20,"v":-85}
],
"d":[
{"s":10,"f":0.04,"v":-49.6},{"s":10,"f":0.17,"v":-54.3},{"s":10,"f":0.3,"v":-57.4},{"s":10,"f":0.47,"v":-55.3},{"s":10,"f":0.62,"v":-57.4},{"s":10,"f":0.82,"v":-54.3},{"s":10,"f":1.01,"v":-52.7},{"s":10,"f":1.21,"v":-49.6},{"s":10,"f":1.34,"v":-45},{"s":10,"f":1.47,"v":-33},{"s":10,"f":1.56,"v":-42.6},{"s":10,"f":1.66,"v":-52},{"s":10,"f":1.86,"v":-52.7},{"s":10,"f":1.99,"v":-55.8},{"s":10,"f":2.18,"v":-59},{"s":10,"f":2.38,"v":-58},{"s":10,"f":2.5,"v":-61.2},{"s":10,"f":2.63,"v":-58.3},{"s":10,"f":2.76,"v":-61.2},{"s":10,"f":2.89,"v":-58.9},{"s":10,"f":3.09,"v":-56.3},{"s":10,"f":3.28,"v":-59.7},{"s":10,"f":3.41,"v":-56.6},{"s":10,"f":3.61,"v":-52.2},{"s":10,"f":3.74,"v":-58.9},{"s":10,"f":4,"v":-55.3},{"s":10,"f":4.19,"v":-58},{"s":10,"f":4.39,"v":-60},{"s":10,"f":4.58,"v":-60.5},{"s":10,"f":4.71,"v":-60.5},{"s":10,"f":4.84,"v":-57.4},{"s":10,"f":5,"v":-46.5},{"s":10,"f":5.1,"v":-49.6},{"s":10,"f":5.23,"v":-54.3},{"s":10,"f":5.42,"v":-55.8},{"s":10,"f":5.62,"v":-59.7},{"s":10,"f":5.81,"v":-61},{"s":10,"f":6.01,"v":-60},{"s":10,"f":6.2,"v":-60.5},{"s":10,"f":6.4,"v":-62.8},{"s":10,"f":6.59,"v":-61.2},{"s":10,"f":6.79,"v":-64.3},{"s":10,"f":6.98,"v":-65.1},{"s":10,"f":7.11,"v":-61.2},{"s":10,"f":7.3,"v":-65.9},{"s":10,"f":7.5,"v":-69},{"s":10,"f":7.7,"v":-65.9},{"s":10,"f":7.89,"v":-60},{"s":10,"f":8.02,"v":-57.4},{"s":10,"f":8.15,"v":-61.2},{"s":10,"f":8.35,"v":-65.9},{"s":10,"f":8.54,"v":-64.3},{"s":10,"f":8.73,"v":-61.2},{"s":10,"f":8.93,"v":-60.5},{"s":10,"f":9.19,"v":-58},{"s":10,"f":9.38,"v":-55.8},{"s":10,"f":9.55,"v":-52},{"s":10,"f":9.71,"v":-58.9},{"s":10,"f":9.97,"v":-60.5},{"s":10,"f":10.16,"v":-63.6},{"s":10,"f":10.36,"v":-65.9},{"s":10,"f":10.55,"v":-62.5},{"s":10,"f":10.75,"v":-62},{"s":10,"f":11.01,"v":-60.5},{"s":10,"f":11.2,"v":-62.8},{"s":10,"f":11.4,"v":-65.9},{"s":10,"f":11.59,"v":-65.9},{"s":10,"f":11.78,"v":-66.7},{"s":10,"f":11.98,"v":-67.4},{"s":10,"f":12.17,"v":-64.3},{"s":10,"f":12.37,"v":-65.1},{"s":10,"f":12.5,"v":-63.6},{"s":10,"f":12.69,"v":-60.5},{"s":10,"f":12.82,"v":-58},{"s":10,"f":12.95,"v":-60.5},{"s":10,"f":13.15,"v":-62.5},{"s":10,"f":13.34,"v":-61.6},{"s":10,"f":13.54,"v":-62.8},{"s":10,"f":13.74,"v":-65.1},{"s":10,"f":13.93,"v":-65.9},{"s":10,"f":14.12,"v":-67.4},{"s":10,"f":14.32,"v":-67.1},{"s":10,"f":14.51,"v":-67.8},{"s":10,"f":14.7,"v":-67.4},{"s":10,"f":14.9,"v":-66.7},{"s":10,"f":15.09,"v":-69},{"s":10,"f":15.29,"v":-71.3},{"s":10,"f":15.55,"v":-73.6},{"s":10,"f":15.81,"v":-74.4},{"s":10,"f":16.07,"v":-77.5},{"s":10,"f":16.33,"v":-79},{"s":10,"f":16.58,"v":-79.5},{"s":10,"f":16.85,"v":-79.8},{"s":10,"f":17.11,"v":-80.6},{"s":10,"f":17.36,"v":-82.2},{"s":10,"f":17.62,"v":-83.7},{"s":10,"f":17.82,"v":-82.9},{"s":10,"f":18.01,"v":-81.9},{"s":10,"f":18.27,"v":-82.2},{"s":10,"f":18.53,"v":-82.6},{"s":10,"f":18.79,"v":-82.2},{"s":10,"f":18.99,"v":-81.7},{"s":10,"f":19.18,"v":-80.6},{"s":10,"f":19.38,"v":-82.2},{"s":10,"f":19.57,"v":-81.4},{"s":10,"f":19.77,"v":-82.9},{"s":10,"f":19.96,"v":-83.3},
{"s":20,"f":0.04,"v":-49.6},{"s":20,"f":0.17,"v":-55.8},{"s":20,"f":0.3,"v":-56.6},{"s":20,"f":0.47,"v":-54.3},{"s":20,"f":0.62,"v":-57.4},{"s":20,"f":0.82,"v":-54.7},{"s":20,"f":1.01,"v":-52.7},{"s":20,"f":1.21,"v":-51.2},{"s":20,"f":1.34,"v":-45.7},{"s":20,"f":1.47,"v":-36.4},{"s":20,"f":1.56,"v":-45.7},{"s":20,"f":1.66,"v":-52.7},{"s":20,"f":1.86,"v":-53.5},{"s":20,"f":2.05,"v":-56.6},{"s":20,"f":2.24,"v":-58.9},{"s":20,"f":2.44,"v":-62},{"s":20,"f":2.63,"v":-60.5},{"s":20,"f":2.83,"v":-61.2},{"s":20,"f":3.02,"v":-57.4},{"s":20,"f":3.22,"v":-58.1},{"s":20,"f":3.41,"v":-59.4},{"s":20,"f":3.61,"v":-52.7},{"s":20,"f":3.74,"v":-58.9},{"s":20,"f":3.93,"v":-57.8},{"s":20,"f":4.13,"v":-59.7},{"s":20,"f":4.32,"v":-60.5},{"s":20,"f":4.58,"v":-61.2},{"s":20,"f":4.78,"v":-60.5},{"s":20,"f":4.93,"v":-56.6},{"s":20,"f":5.04,"v":-48.8},{"s":20,"f":5.17,"v":-55.8},{"s":20,"f":5.36,"v":-58.9},{"s":20,"f":5.62,"v":-62},{"s":20,"f":5.81,"v":-63.3},{"s":20,"f":6.01,"v":-62},{"s":20,"f":6.2,"v":-60},{"s":20,"f":6.4,"v":-61.6},{"s":20,"f":6.59,"v":-63.6},{"s":20,"f":6.85,"v":-65.1},{"s":20,"f":7.11,"v":-65.1},{"s":20,"f":7.3,"v":-66.7},{"s":20,"f":7.5,"v":-69.8},{"s":20,"f":7.76,"v":-68.2},{"s":20,"f":7.99,"v":-63.6},{"s":20,"f":8.15,"v":-67.4},{"s":20,"f":8.28,"v":-69.8},{"s":20,"f":8.47,"v":-66.7},{"s":20,"f":8.67,"v":-65.1},{"s":20,"f":8.93,"v":-62},{"s":20,"f":9.19,"v":-60},{"s":20,"f":9.38,"v":-57.4},{"s":20,"f":9.55,"v":-54.3},{"s":20,"f":9.71,"v":-60},{"s":20,"f":9.97,"v":-60.5},{"s":20,"f":10.23,"v":-62.8},{"s":20,"f":10.42,"v":-64.7},{"s":20,"f":10.62,"v":-62},{"s":20,"f":10.81,"v":-61.6},{"s":20,"f":11.01,"v":-59.7},{"s":20,"f":11.27,"v":-62.8},{"s":20,"f":11.53,"v":-65.9},{"s":20,"f":11.78,"v":-65.6},{"s":20,"f":12.04,"v":-64},{"s":20,"f":12.3,"v":-64.3},{"s":20,"f":12.56,"v":-64},{"s":20,"f":12.76,"v":-60},{"s":20,"f":12.89,"v":-57.4},{"s":20,"f":13.02,"v":-62},{"s":20,"f":13.28,"v":-62.8},{"s":20,"f":13.47,"v":-63.6},{"s":20,"f":13.73,"v":-66.7},{"s":20,"f":13.99,"v":-64.3},{"s":20,"f":14.25,"v":-65.9},{"s":20,"f":14.51,"v":-67.4},{"s":20,"f":14.77,"v":-66.7},{"s":20,"f":15.03,"v":-65.6},{"s":20,"f":15.29,"v":-67.4},{"s":20,"f":15.55,"v":-70.5},{"s":20,"f":15.81,"v":-73.6},{"s":20,"f":16.07,"v":-75.2},{"s":20,"f":16.26,"v":-76.4},{"s":20,"f":16.52,"v":-79.5},{"s":20,"f":16.78,"v":-79},{"s":20,"f":17.04,"v":-79.8},{"s":20,"f":17.3,"v":-81.4},{"s":20,"f":17.56,"v":-82.9},{"s":20,"f":17.82,"v":-82.6},{"s":20,"f":18.08,"v":-82.2},{"s":20,"f":18.34,"v":-83.7},{"s":20,"f":18.61,"v":-85.7},{"s":20,"f":18.87,"v":-85.7},{"s":20,"f":19.13,"v":-84.5},{"s":20,"f":19.32,"v":-83.3},{"s":20,"f":19.51,"v":-84.5},{"s":20,"f":19.7,"v":-83.3},{"s":20,"f":19.96,"v":-84.5}
],
"e":[
{"s":1,"f":0.11,"v":-52},{"s":1,"f":0.34,"v":-57.5},{"s":1,"f":0.53,"v":-58},{"s":1,"f":0.73,"v":-57},{"s":1,"f":0.96,"v":-54},{"s":1,"f":1.11,"v":-52},{"s":1,"f":1.27,"v":-50},{"s":1,"f":1.39,"v":-45},{"s":1,"f":1.45,"v":-34},{"s":1,"f":1.55,"v":-36},{"s":1,"f":1.65,"v":-51},{"s":1,"f":1.76,"v":-52},{"s":1,"f":1.89,"v":-50},{"s":1,"f":2.04,"v":-57},{"s":1,"f":2.27,"v":-59},{"s":1,"f":2.5,"v":-60.5},{"s":1,"f":2.66,"v":-59},{"s":1,"f":2.74,"v":-62},{"s":1,"f":2.89,"v":-59},{"s":1,"f":3.04,"v":-57},{"s":1,"f":3.12,"v":-56},{"s":1,"f":3.28,"v":-60},{"s":1,"f":3.43,"v":-56},{"s":1,"f":3.59,"v":-53},{"s":1,"f":3.74,"v":-57.5},{"s":1,"f":3.89,"v":-59},{"s":1,"f":4.05,"v":-55},{"s":1,"f":4.2,"v":-60.5},{"s":1,"f":4.36,"v":-59},{"s":1,"f":4.51,"v":-58},{"s":1,"f":4.67,"v":-61},{"s":1,"f":4.82,"v":-53},{"s":1,"f":4.98,"v":-47},{"s":1,"f":5.13,"v":-51},{"s":1,"f":5.29,"v":-54.5},{"s":1,"f":5.44,"v":-56},{"s":1,"f":5.75,"v":-61},{"s":1,"f":6.06,"v":-60.5},{"s":1,"f":6.37,"v":-61},{"s":1,"f":6.6,"v":-60},{"s":1,"f":6.83,"v":-63},{"s":1,"f":7.14,"v":-63.5},{"s":1,"f":7.3,"v":-66.5},{"s":1,"f":7.45,"v":-70},{"s":1,"f":7.6,"v":-65},{"s":1,"f":7.84,"v":-60.5},{"s":1,"f":7.99,"v":-57.5},{"s":1,"f":8.15,"v":-63},{"s":1,"f":8.3,"v":-66.5},{"s":1,"f":8.53,"v":-63.5},{"s":1,"f":8.76,"v":-63},{"s":1,"f":9,"v":-61},{"s":1,"f":9.15,"v":-57.5},{"s":1,"f":9.38,"v":-56},{"s":1,"f":9.54,"v":-52},{"s":1,"f":9.69,"v":-56},{"s":1,"f":9.85,"v":-59},{"s":1,"f":10.08,"v":-60.5},{"s":1,"f":10.31,"v":-65},{"s":1,"f":10.46,"v":-63.5},{"s":1,"f":10.62,"v":-61},{"s":1,"f":10.77,"v":-63.5},{"s":1,"f":11,"v":-59},{"s":1,"f":11.16,"v":-63},{"s":1,"f":11.39,"v":-66.5},{"s":1,"f":11.62,"v":-67},{"s":1,"f":11.85,"v":-66},{"s":1,"f":12.01,"v":-66.5},{"s":1,"f":12.16,"v":-63.5},{"s":1,"f":12.4,"v":-66.5},{"s":1,"f":12.7,"v":-62},{"s":1,"f":12.86,"v":-59},{"s":1,"f":13.09,"v":-61},{"s":1,"f":13.4,"v":-61},{"s":1,"f":13.63,"v":-65},{"s":1,"f":13.86,"v":-63.5},{"s":1,"f":14.1,"v":-67},{"s":1,"f":14.4,"v":-67},{"s":1,"f":14.71,"v":-68},{"s":1,"f":15.02,"v":-67},{"s":1,"f":15.33,"v":-70},{"s":1,"f":15.64,"v":-72.5},{"s":1,"f":15.95,"v":-75},{"s":1,"f":16.18,"v":-78.5},{"s":1,"f":16.41,"v":-79.5},{"s":1,"f":16.72,"v":-80},{"s":1,"f":17.03,"v":-81},{"s":1,"f":17.34,"v":-80},{"s":1,"f":17.65,"v":-83},{"s":1,"f":17.88,"v":-84},{"s":1,"f":18.11,"v":-82},{"s":1,"f":18.42,"v":-82.5},{"s":1,"f":18.73,"v":-82},{"s":1,"f":19.04,"v":-82},{"s":1,"f":19.27,"v":-80},{"s":1,"f":19.51,"v":-82},{"s":1,"f":19.74,"v":-83},{"s":1,"f":19.97,"v":-85},
{"s":2,"f":0.11,"v":-49},{"s":2,"f":0.19,"v":-54},{"s":2,"f":0.34,"v":-55},{"s":2,"f":0.49,"v":-54},{"s":2,"f":0.65,"v":-54},{"s":2,"f":0.8,"v":-54.5},{"s":2,"f":0.96,"v":-56},{"s":2,"f":1.11,"v":-54},{"s":2,"f":1.27,"v":-51},{"s":2,"f":1.34,"v":-45},{"s":2,"f":1.45,"v":-37},{"s":2,"f":1.53,"v":-45},{"s":2,"f":1.62,"v":-52},{"s":2,"f":1.73,"v":-51},{"s":2,"f":1.81,"v":-54.5},{"s":2,"f":1.96,"v":-55},{"s":2,"f":2.12,"v":-56},{"s":2,"f":2.27,"v":-53},{"s":2,"f":2.43,"v":-52},{"s":2,"f":2.66,"v":-55},{"s":2,"f":2.89,"v":-55},{"s":2,"f":3.04,"v":-51.5},{"s":2,"f":3.15,"v":-49},{"s":2,"f":3.28,"v":-54.5},{"s":2,"f":3.35,"v":-59},{"s":2,"f":3.59,"v":-58.5},{"s":2,"f":3.89,"v":-60.5},{"s":2,"f":4.05,"v":-62},{"s":2,"f":4.2,"v":-64},{"s":2,"f":4.36,"v":-67},{"s":2,"f":4.51,"v":-71},{"s":2,"f":4.67,"v":-74},{"s":2,"f":4.82,"v":-76},{"s":2,"f":4.98,"v":-74},{"s":2,"f":5.13,"v":-75.5},{"s":2,"f":5.36,"v":-77},{"s":2,"f":5.6,"v":-78.5},{"s":2,"f":5.83,"v":-80},{"s":2,"f":6.06,"v":-80.5},{"s":2,"f":6.37,"v":-79.5},{"s":2,"f":6.6,"v":-81},{"s":2,"f":6.83,"v":-81.5},{"s":2,"f":7.06,"v":-86},{"s":2,"f":7.3,"v":-89},{"s":2,"f":7.53,"v":-87},{"s":2,"f":7.76,"v":-86},{"s":2,"f":7.91,"v":-79.5},{"s":2,"f":8.04,"v":-85.5},{"s":2,"f":8.22,"v":-87},{"s":2,"f":8.45,"v":-85.5},{"s":2,"f":8.69,"v":-82.5},{"s":2,"f":8.92,"v":-81.5},{"s":2,"f":9.12,"v":-77.5},{"s":2,"f":9.3,"v":-81},{"s":2,"f":9.54,"v":-82.5},{"s":2,"f":9.77,"v":-89},{"s":2,"f":10.08,"v":-87.5},{"s":2,"f":10.31,"v":-90.5},{"s":2,"f":10.54,"v":-87},{"s":2,"f":10.77,"v":-85.5},{"s":2,"f":11,"v":-88.5},{"s":2,"f":11.24,"v":-93.5},{"s":2,"f":11.47,"v":-90.5},{"s":2,"f":11.7,"v":-91},{"s":2,"f":11.93,"v":-89},{"s":2,"f":12.16,"v":-89},{"s":2,"f":12.32,"v":-86.5},{"s":2,"f":12.55,"v":-92},{"s":2,"f":12.7,"v":-90.5},{"s":2,"f":12.94,"v":-87.5},{"s":2,"f":13.17,"v":-86.5},{"s":2,"f":13.4,"v":-88.5},{"s":2,"f":13.63,"v":-86.5},{"s":2,"f":13.86,"v":-89},{"s":2,"f":14.1,"v":-86},{"s":2,"f":14.4,"v":-84},{"s":2,"f":14.64,"v":-83},{"s":2,"f":14.87,"v":-85.5},{"s":2,"f":15.1,"v":-87},{"s":2,"f":15.33,"v":-89},{"s":2,"f":15.64,"v":-93},{"s":2,"f":15.87,"v":-95},{"s":2,"f":16.03,"v":-99},{"s":2,"f":16.18,"v":-99.6},{"s":2,"f":16.41,"v":-99.6}
]
},
"vconcat":[
{"vconcat":[
{"hconcat":[
{"width":512,"height":214,
"title":{"text":"a） 分析開始時間の影響","orient":"bottom","offset":8,"frame":"group"},
"encoding":{"x":{"field":"f","type":"quantitative","scale":{"domain":[0,20],"nice":false,"zero":false},"axis":{"values":[0,2,4,6,8,10,12,14,16,18,20],"labels":false,"title":null}},
"y":{"field":"v","type":"quantitative","scale":{"domain":[-100,0],"nice":false},"axis":{"values":[-100,-80,-60,-40,-20,0],"title":"音圧レベル（ｄＢ）","titleY":125}}},
"layer":[
{"data":{"name":"a"},"mark":{"type":"line","clip":true,"strokeWidth":2.5,"strokeJoin":"round"},
"encoding":{"color":{"field":"s","type":"nominal","scale":{"domain":[0,1.5,3,4.5],"range":["#C00000","#E4A3A1","#8064A2","#002060"]},"legend":{"title":null,"orient":"none","legendX":77,"legendY":-10,"direction":"horizontal","columns":2,"columnPadding":62,"labelFontSize":19,"rowPadding":5,"symbolType":"M-1,0L2.3,0","symbolSize":400,"labelOffset":20,"padding":4,"labelExpr":"'打撃後 ' + datum.label + ' sec.'"}}}},
{"data":{"values":[{"f":-0.08,"f2":5.6,"v":24.3,"v2":7.5}]},"mark":{"type":"rect","fill":"#fff","stroke":"#000","strokeWidth":2},"encoding":{"x2":{"field":"f2"},"y2":{"field":"v2"}}},
{"data":{"values":[{"f":0.04,"v":15.6,"t":"卓越周波数"}]},"mark":{"type":"text","align":"left","baseline":"middle","fontSize":22,"color":"#000","font":"Noto Sans CJK JP"},"encoding":{"text":{"field":"t"}}},
{"data":{"values":[{"f":1.48,"v":-38.3}]},"mark":{"type":"point","shape":"M0,-1C0.1138,-1 0.206,-0.5523 0.206,0C0.206,0.5523 0.1138,1 0,1C-0.1138,1 -0.206,0.5523 -0.206,0C-0.206,-0.5523 -0.1138,-1 0,-1Z","size":41616,"filled":false,"stroke":"#000","color":"#000","strokeWidth":3,"opacity":1}}
]},
{"width":513,"height":208,
"title":{"text":"c） 測定面の影響","orient":"bottom","offset":2,"frame":"group"},
"encoding":{"x":{"field":"f","type":"quantitative","scale":{"domain":[0,20],"nice":false,"zero":false},"axis":{"values":[0,2,4,6,8,10,12,14,16,18,20],"labels":false,"title":null}},
"y":{"field":"v","type":"quantitative","scale":{"domain":[-100,0],"nice":false},"axis":{"values":[-100,-80,-60,-40,-20,0],"title":"音圧レベル（ｄＢ）","titleY":122}}},
"layer":[
{"data":{"name":"c"},"mark":{"type":"line","clip":true,"strokeWidth":2.5,"strokeJoin":"round"},
"encoding":{"color":{"field":"s","type":"nominal","scale":{"domain":[1,2,3],"range":["#CC4B48","#9BBB59","#8064A2"]},"legend":{"title":null,"orient":"none","legendX":173,"legendY":7,"labelFontSize":19,"rowPadding":5,"symbolType":"M-1,0L2.5,0","symbolSize":400,"labelOffset":19,"padding":4,"labelExpr":"(datum.value == 1 ? '打込み面' : datum.value == 2 ? '側面' : '底面') + '（10度，Vr=25%）'"}}}},
{"data":{"values":[{"f":0.27,"f2":6.16,"v":-10.1,"v2":-23.1}]},"mark":{"type":"rect","fill":"#fff","stroke":"#000","strokeWidth":2},"encoding":{"x2":{"field":"f2"},"y2":{"field":"v2"}}},
{"data":{"values":[{"f":0.35,"v":-16.6,"t":"卓越周波数"}]},"mark":{"type":"text","align":"left","baseline":"middle","fontSize":22,"color":"#000","font":"Noto Sans CJK JP"},"encoding":{"text":{"field":"t"}}},
{"data":{"values":[{"f":1.4,"v":-34.4}]},"mark":{"type":"point","shape":"M0,-1C0.5136,-1 0.93,-0.5523 0.93,0C0.93,0.5523 0.5136,1 0,1C-0.5136,1 -0.93,0.5523 -0.93,0C-0.93,-0.5523 -0.5136,-1 0,-1Z","size":2025,"filled":false,"stroke":"#000","color":"#000","strokeWidth":3,"opacity":1}}
]}
],"spacing":124,"bounds":"flush","resolve":{"scale":{"color":"independent"},"legend":{"color":"independent"}}},
{"hconcat":[
{"width":515,"height":210,
"title":{"text":"b） 空隙率の影響","orient":"bottom","offset":6,"frame":"group"},
"encoding":{"x":{"field":"f","type":"quantitative","scale":{"domain":[0,20],"nice":false,"zero":false},"axis":{"values":[0,2,4,6,8,10,12,14,16,18,20],"labels":false,"title":null}},
"y":{"field":"v","type":"quantitative","scale":{"domain":[-100,0],"nice":false},"axis":{"values":[-100,-80,-60,-40,-20,0],"title":"音圧レベル（ｄＢ）","titleY":123}}},
"layer":[
{"data":{"name":"b"},"mark":{"type":"line","clip":true,"strokeWidth":2.5,"strokeJoin":"round"},
"encoding":{"color":{"field":"s","type":"nominal","scale":{"domain":[0,15,25,35],"range":["#4F81BD","#E03A3A","#9BBB59","#8064A2"]},"legend":{"title":null,"orient":"none","legendX":159,"legendY":5,"labelFontSize":18,"rowPadding":3.5,"symbolType":"M-1,0L3.11,0","symbolSize":324,"labelOffset":23,"padding":3,"labelExpr":"'Vr=' + datum.label + '%（10度，打込み面）'"}}}},
{"data":{"values":[{"f":-0.23,"f2":5.36,"v":-12.4,"v2":-25.7}]},"mark":{"type":"rect","fill":"#fff","stroke":"#000","strokeWidth":2},"encoding":{"x2":{"field":"f2"},"y2":{"field":"v2"}}},
{"data":{"values":[{"f":-0.12,"v":-19,"t":"卓越周波数"}]},"mark":{"type":"text","align":"left","baseline":"middle","fontSize":22,"color":"#000","font":"Noto Sans CJK JP"},"encoding":{"text":{"field":"t"}}},
{"data":{"values":[{"f":1.42,"v":-36.4}]},"mark":{"type":"point","shape":"M0,-1C0.7732,-1 1.4,-0.5523 1.4,0C1.4,0.5523 0.7732,1 0,1C-0.7732,1 -1.4,0.5523 -1.4,0C-1.4,-0.5523 -0.7732,-1 0,-1Z","size":2025,"filled":false,"stroke":"#000","color":"#000","strokeWidth":3,"opacity":1}}
]},
{"width":513,"height":215,
"title":{"text":"d） 振上げ角度の影響","orient":"bottom","offset":4,"frame":"group"},
"encoding":{"x":{"field":"f","type":"quantitative","scale":{"domain":[0,20],"nice":false,"zero":false},"axis":{"values":[0,2,4,6,8,10,12,14,16,18,20],"labels":false,"title":null}},
"y":{"field":"v","type":"quantitative","scale":{"domain":[-100,0],"nice":false},"axis":{"values":[-100,-80,-60,-40,-20,0],"title":"音圧レベル（ｄＢ）","titleY":125}}},
"layer":[
{"data":{"name":"d"},"mark":{"type":"line","clip":true,"strokeWidth":2.5,"strokeJoin":"round"},
"encoding":{"color":{"field":"s","type":"nominal","scale":{"domain":[10,20],"range":["#C0504D","#9BBB59"]},"legend":{"title":null,"orient":"none","legendX":157,"legendY":28,"labelFontSize":20,"rowPadding":8,"symbolType":"M-1,0L2.8,0","symbolSize":400,"labelOffset":22,"padding":4,"labelExpr":"datum.label + '度　（打込み面，Vr=25%）'"}}}},
{"data":{"values":[{"f":0.23,"f2":5.89,"v":-10.7,"v2":-23.7}]},"mark":{"type":"rect","fill":"#fff","stroke":"#000","strokeWidth":2},"encoding":{"x2":{"field":"f2"},"y2":{"field":"v2"}}},
{"data":{"values":[{"f":0.35,"v":-17.2,"t":"卓越周波数"}]},"mark":{"type":"text","align":"left","baseline":"middle","fontSize":22,"color":"#000","font":"Noto Sans CJK JP"},"encoding":{"text":{"field":"t"}}},
{"data":{"values":[{"f":1.48,"v":-35.3}]},"mark":{"type":"point","shape":"M0,-1C0.5026,-1 0.91,-0.5523 0.91,0C0.91,0.5523 0.5026,1 0,1C-0.5026,1 -0.91,0.5523 -0.91,0C-0.91,-0.5523 -0.5026,-1 0,-1Z","size":2116,"filled":false,"stroke":"#000","color":"#000","strokeWidth":3,"opacity":1}}
]}
],"spacing":121,"bounds":"flush","resolve":{"scale":{"color":"independent"},"legend":{"color":"independent"}}}
],"spacing":16,"resolve":{"scale":{"color":"independent"},"legend":{"color":"independent"}}},
{"hconcat":[
{"width":288,"height":1,"data":{"values":[]},"mark":"point","encoding":{},"view":{"stroke":null}},
{"width":528,"height":220,
"title":{"text":"e） 擦過音および打撃音の比較","orient":"bottom","offset":16,"frame":"bounds"},
"encoding":{"x":{"field":"f","type":"quantitative","scale":{"domain":[0,20],"nice":false,"zero":false},"axis":{"values":[0,2,4,6,8,10,12,14,16,18,20],"title":"周波数（kHｚ）","labelPadding":15,"titlePadding":7,"labelFontSize":18,"titleFontSize":18}},
"y":{"field":"v","type":"quantitative","scale":{"domain":[-100,0],"nice":false},"axis":{"values":[-100,-80,-60,-40,-20,0],"title":"音圧レベル（ｄＢ）","titleY":128}}},
"layer":[
{"data":{"values":[{"f":3.56,"f2":17.92,"v":-13.6,"v2":-38.6}]},"mark":{"type":"rect","fill":"#fff","stroke":"#000","strokeWidth":1.5},"encoding":{"x2":{"field":"f2"},"y2":{"field":"v2"}}},
{"data":{"name":"e"},"mark":{"type":"line","clip":true,"strokeWidth":2.5,"strokeJoin":"round"},
"encoding":{"color":{"field":"s","type":"nominal","scale":{"domain":[1,2],"range":["#C0504D","#00B0F0"]},"legend":{"title":null,"orient":"none","legendX":126,"legendY":35,"labelFontSize":20,"rowPadding":5,"symbolType":"M-1,0L2.5,0","symbolSize":400,"labelOffset":21,"padding":0,"strokeColor":null,"fillColor":null,"labelExpr":"(datum.value == 1 ? '打撃音' : '擦過音') + '（打込み面，Vr=25%）'"}}}},
{"data":{"values":[{"f":-0.38,"f2":5.0,"v":-2.7,"v2":-15.9}]},"mark":{"type":"rect","fill":"#fff","stroke":"#000","strokeWidth":2},"encoding":{"x2":{"field":"f2"},"y2":{"field":"v2"}}},
{"data":{"values":[{"f":-0.25,"v":-9.3,"t":"卓越周波数"}]},"mark":{"type":"text","align":"left","baseline":"middle","fontSize":22,"color":"#000","font":"Noto Sans CJK JP"},"encoding":{"text":{"field":"t"}}},
{"data":{"values":[{"f":1.27,"v":-33.2}]},"mark":{"type":"point","shape":"M0,-1C0.2982,-1 0.54,-0.5523 0.54,0C0.54,0.5523 0.2982,1 0,1C-0.2982,1 -0.54,0.5523 -0.54,0C-0.54,-0.5523 -0.2982,-1 0,-1Z","size":5776,"filled":false,"stroke":"#000","color":"#000","strokeWidth":3,"opacity":1}}
]}
],"spacing":0,"bounds":"flush","resolve":{"scale":{"color":"independent"},"legend":{"color":"independent"}}}
],
"spacing":53,
"resolve":{"scale":{"color":"independent"},"legend":{"color":"independent"}}
}
